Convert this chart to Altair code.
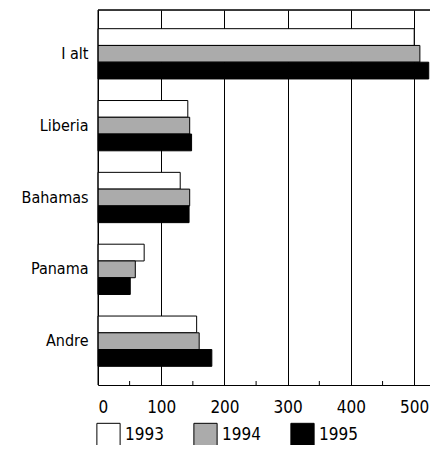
import altair as alt
import pandas as pd

categories = ["I alt", "Liberia", "Bahamas", "Panama", "Andre"]
years = ["1993", "1994", "1995"]
v1993 = [500, 142, 130, 73, 156]
v1994 = [509, 145, 145, 59, 160]
v1995 = [523, 148, 144, 51, 180]
ticks_major = [0, 100, 200, 300, 400, 500]
ticks_minor = [50, 150, 250, 350, 450]

rows = []
for i, c in enumerate(categories):
    for y, vals in zip(years, [v1993, v1994, v1995]):
        rows.append({"cat": c, "year": y, "value": vals[i]})
df = pd.DataFrame(rows)

W, H = 332, 375
FONT = "DejaVu Sans Condensed, Roboto"
xscale = alt.Scale(domain=[0, 525], nice=False, zero=True)

bars = alt.Chart(df).mark_bar(stroke="black", strokeWidth=1).encode(
    y=alt.Y("cat:N", sort=categories,
            scale=alt.Scale(paddingInner=0.3, paddingOuter=0.26),
            axis=alt.Axis(title=None, ticks=False, domain=False, labelFontSize=16,
                          labelFont=FONT, labelColor="black", labelPadding=10)),
    yOffset=alt.YOffset("year:N", sort=years, scale=alt.Scale(paddingInner=0, paddingOuter=0)),
    x=alt.X("value:Q", scale=xscale,
            axis=alt.Axis(title=None, values=ticks_major, grid=True, gridColor="black",
                          gridOpacity=1, gridWidth=1, domainColor="black", domainWidth=1,
                          ticks=False, labelFontSize=17, labelFont=FONT,
                          labelColor="black", labelPadding=14)),
    color=alt.Color("year:N", sort=years,
                    scale=alt.Scale(domain=years, range=["#ffffff", "#ababab", "#000000"]),
                    legend=alt.Legend(title=None, orient="none", legendX=-2, legendY=H + 37,
                                      direction="horizontal", symbolType="square",
                                      symbolSize=540, symbolStrokeColor="black",
                                      symbolStrokeWidth=1, symbolOpacity=1,
                                      labelFontSize=17, labelFont=FONT, labelColor="black",
                                      labelOffset=4, columnPadding=27)),
)

minor = alt.Chart(pd.DataFrame({"t": ticks_minor})).mark_rule(color="black", strokeWidth=1).encode(
    x=alt.X("t:Q", scale=xscale),
    y=alt.value(H - 4), y2=alt.value(H),
)

left = alt.Chart(pd.DataFrame({"t": [0]})).mark_rule(color="black", strokeWidth=1).encode(
    x=alt.X("t:Q", scale=xscale),
    y=alt.value(0), y2=alt.value(H),
)

top = alt.Chart(pd.DataFrame({"t": [0]})).mark_rule(color="black", strokeWidth=1.5).encode(
    x=alt.value(0), x2=alt.value(W), y=alt.value(0),
)

chart = alt.layer(bars, minor, left, top).properties(
    width=W, height=H,
    autosize=alt.AutoSizeParams(type="none"),
    padding={"left": 90, "top": 2, "right": 0, "bottom": 60},
).configure_view(stroke=None).configure(background="white")

chart.save("out.html", embed_options={"renderer": "svg", "actions": False})
